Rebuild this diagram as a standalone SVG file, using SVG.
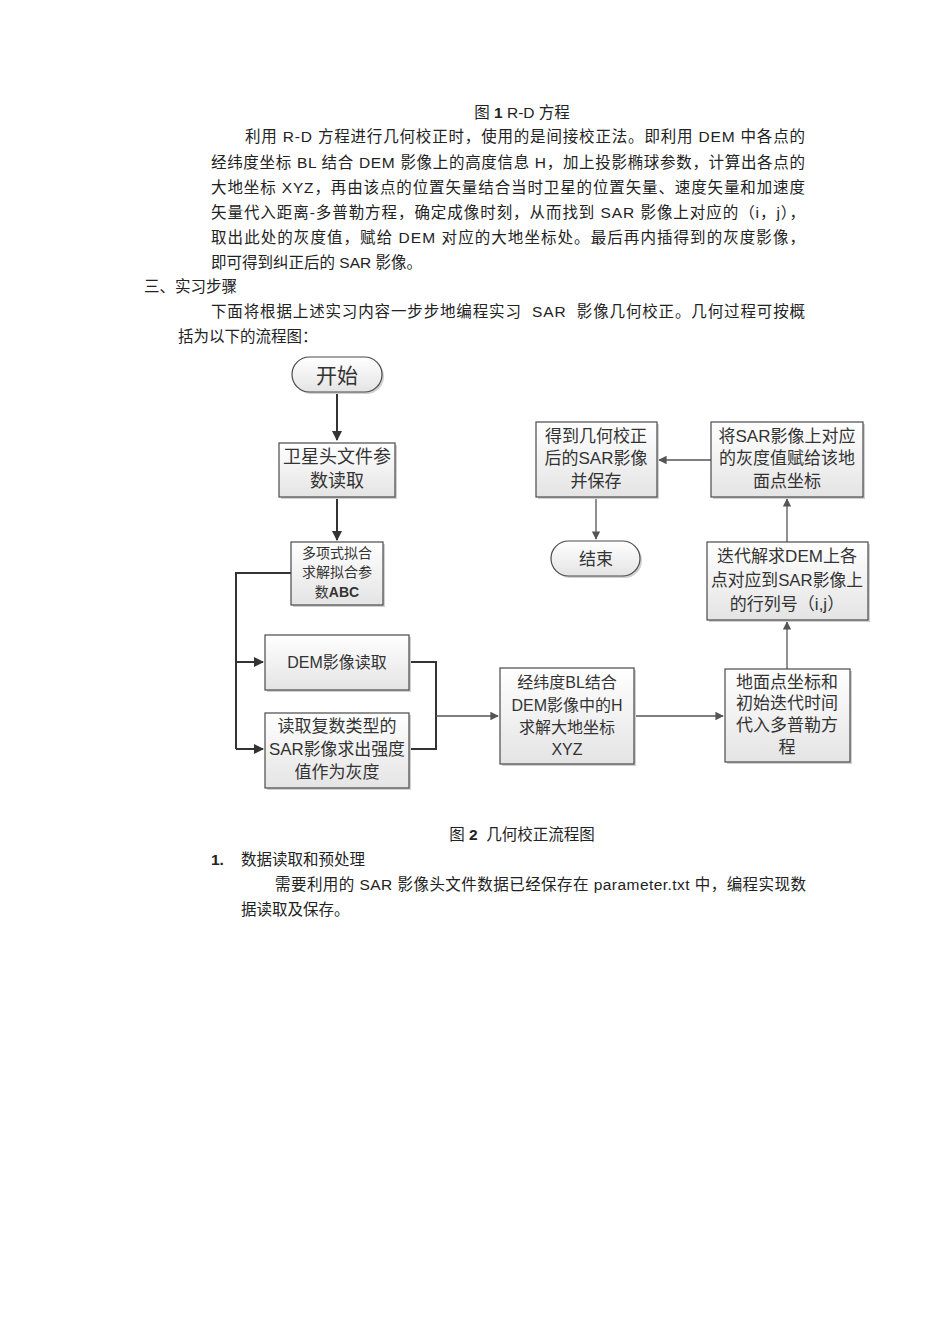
<svg xmlns="http://www.w3.org/2000/svg" width="950" height="1344" viewBox="0 0 950 1344">
<defs>
<linearGradient id="g" x1="0" y1="0" x2="0" y2="1">
<stop offset="0" stop-color="#ffffff"/>
<stop offset="1" stop-color="#e4e4e4"/>
</linearGradient>
<marker id="a" viewBox="0 0 10 10" refX="9" refY="5" markerWidth="5" markerHeight="5" orient="auto" markerUnits="strokeWidth">
<path d="M0,0 L10,5 L0,10 z" fill="#333"/>
</marker>
<marker id="b" viewBox="0 0 10 10" refX="9" refY="5" markerWidth="6.5" markerHeight="6.5" orient="auto" markerUnits="strokeWidth">
<path d="M0,0 L10,5 L0,10 z" fill="#555"/>
</marker>
</defs>
<style>
text{font-family:"Liberation Sans","Noto Sans CJK SC",sans-serif;fill:#222}
.p{font-size:15.5px;white-space:pre}
.b{font-weight:bold}
.n{font-size:17px;text-anchor:middle;fill:#333}
.s{font-size:14px;text-anchor:middle;fill:#333}
.box{fill:url(#g);stroke:#4a4a4a;stroke-width:1.2}
.sh{fill:#d0d0d0}
.c1{fill:none;stroke:#333;stroke-width:2}
.c2{fill:none;stroke:#555;stroke-width:1.3}
</style>
<rect width="950" height="1344" fill="#fff"/>

<g id="body">
<text class="p" x="522" y="118" text-anchor="middle">图 <tspan class="b">1</tspan> R-D 方程</text>
<text class="p" x="245" y="142" textLength="560" lengthAdjust="spacing">利用 R-D 方程进行几何校正时，使用的是间接校正法。即利用 DEM 中各点的</text>
<text class="p" x="211" y="168" textLength="594" lengthAdjust="spacing">经纬度坐标 BL 结合 DEM 影像上的高度信息 H，加上投影椭球参数，计算出各点的</text>
<text class="p" x="211" y="193" textLength="594" lengthAdjust="spacing">大地坐标 XYZ，再由该点的位置矢量结合当时卫星的位置矢量、速度矢量和加速度</text>
<text class="p" x="211" y="218" textLength="594" lengthAdjust="spacing">矢量代入距离-多普勒方程，确定成像时刻，从而找到 SAR 影像上对应的（i，j），</text>
<text class="p" x="211" y="243" textLength="594" lengthAdjust="spacing">取出此处的灰度值，赋给 DEM 对应的大地坐标处。最后再内插得到的灰度影像，</text>
<text class="p" x="211" y="268">即可得到纠正后的 SAR 影像。</text>
<text class="p" x="144" y="292">三、实习步骤</text>
<text class="p" x="211" y="317" textLength="594" lengthAdjust="spacing">下面将根据上述实习内容一步步地编程实习  SAR  影像几何校正。几何过程可按概</text>
<text class="p" x="178" y="342">括为以下的流程图：</text>
<text class="p" x="522" y="840" text-anchor="middle">图 <tspan class="b">2</tspan>  几何校正流程图</text>
<text class="p b" x="211" y="865">1.</text>
<text class="p" x="241" y="865">数据读取和预处理</text>
<text class="p" x="275" y="890" textLength="531" lengthAdjust="spacing">需要利用的 SAR 影像头文件数据已经保存在 parameter.txt 中，编程实现数</text>
<text class="p" x="241" y="915">据读取及保存。</text>
</g>

<g id="connectors">
<path class="c1" d="M337,392 V440" marker-end="url(#a)"/>
<path class="c1" d="M337,497 V540" marker-end="url(#a)"/>
<path class="c1" d="M291,573 H236 V749"/>
<path class="c1" d="M236,662 H263" marker-end="url(#a)"/>
<path class="c1" d="M236,749 H263" marker-end="url(#a)"/>
<path class="c1" d="M409,662 H436 V749 H409"/>
<path class="c2" d="M436,716 H498" marker-end="url(#b)"/>
<path class="c2" d="M634,716 H723" marker-end="url(#b)"/>
<path class="c2" d="M787,669 V622" marker-end="url(#b)"/>
<path class="c2" d="M787,542 V499" marker-end="url(#b)"/>
<path class="c2" d="M711,460 H659" marker-end="url(#b)"/>
<path class="c2" d="M596,497 V539" marker-end="url(#b)"/>
</g>

<g id="start">
<rect x="294" y="359" width="90" height="35" rx="17.5" class="sh"/>
<rect x="292" y="357" width="90" height="35" rx="17.5" class="box"/>
<text x="337" y="383" style="font-size:21px;text-anchor:middle;fill:#333">开始</text>
</g>

<g id="readHeader">
<rect x="281" y="445" width="116" height="54" class="sh"/>
<rect x="279" y="443" width="116" height="54" class="box"/>
<text class="n" x="337" y="463" style="font-size:18px">卫星头文件参</text>
<text class="n" x="337" y="487" style="font-size:18px">数读取</text>
</g>

<g id="polyfit">
<rect x="293" y="544" width="92" height="63" class="sh"/>
<rect x="291" y="542" width="92" height="63" class="box"/>
<text class="s" x="337" y="558">多项式拟合</text>
<text class="s" x="337" y="577">求解拟合参</text>
<text class="s" x="337" y="597">数<tspan font-weight="bold">ABC</tspan></text>
</g>

<g id="demRead">
<rect x="267" y="637" width="144" height="55" class="sh"/>
<rect x="265" y="635" width="144" height="55" class="box"/>
<text class="n" x="337" y="668" style="font-size:16px">DEM影像读取</text>
</g>

<g id="sarRead">
<rect x="267" y="715" width="144" height="75" class="sh"/>
<rect x="265" y="713" width="144" height="75" class="box"/>
<text class="n" x="337" y="732">读取复数类型的</text>
<text class="n" x="337" y="755" textLength="136" lengthAdjust="spacingAndGlyphs">SAR影像求出强度</text>
<text class="n" x="337" y="778">值作为灰度</text>
</g>

<g id="geoCoord">
<rect x="502" y="670" width="134" height="96" class="sh"/>
<rect x="500" y="668" width="134" height="96" class="box"/>
<text class="n" x="567" y="688" style="font-size:16px">经纬度BL结合</text>
<text class="n" x="567" y="711" style="font-size:16px">DEM影像中的H</text>
<text class="n" x="567" y="733" style="font-size:16px">求解大地坐标</text>
<text class="n" x="567" y="755" style="font-size:16px">XYZ</text>
</g>

<g id="doppler">
<rect x="727" y="671" width="125" height="93" class="sh"/>
<rect x="725" y="669" width="125" height="93" class="box"/>
<text class="n" x="787" y="688">地面点坐标和</text>
<text class="n" x="787" y="709">初始迭代时间</text>
<text class="n" x="787" y="731">代入多普勒方</text>
<text class="n" x="787" y="753">程</text>
</g>

<g id="iterate">
<rect x="709" y="544" width="161" height="78" class="sh"/>
<rect x="707" y="542" width="161" height="78" class="box"/>
<text class="n" x="787" y="562">迭代解求DEM上各</text>
<text class="n" x="787" y="586" textLength="152" lengthAdjust="spacingAndGlyphs">点对应到SAR影像上</text>
<text class="n" x="787" y="610">的行列号（i,j）</text>
</g>

<g id="assign">
<rect x="713" y="424" width="152" height="75" class="sh"/>
<rect x="711" y="422" width="152" height="75" class="box"/>
<text class="n" x="787" y="442">将SAR影像上对应</text>
<text class="n" x="787" y="464">的灰度值赋给该地</text>
<text class="n" x="787" y="487">面点坐标</text>
</g>

<g id="save">
<rect x="538" y="424" width="121" height="75" class="sh"/>
<rect x="536" y="422" width="121" height="75" class="box"/>
<text class="n" x="596" y="442">得到几何校正</text>
<text class="n" x="596" y="464">后的SAR影像</text>
<text class="n" x="596" y="487">并保存</text>
</g>

<g id="end">
<rect x="553" y="543" width="89" height="35" rx="17.5" class="sh"/>
<rect x="551" y="541" width="89" height="35" rx="17.5" class="box"/>
<text class="n" x="596" y="565">结束</text>
</g>
</svg>
